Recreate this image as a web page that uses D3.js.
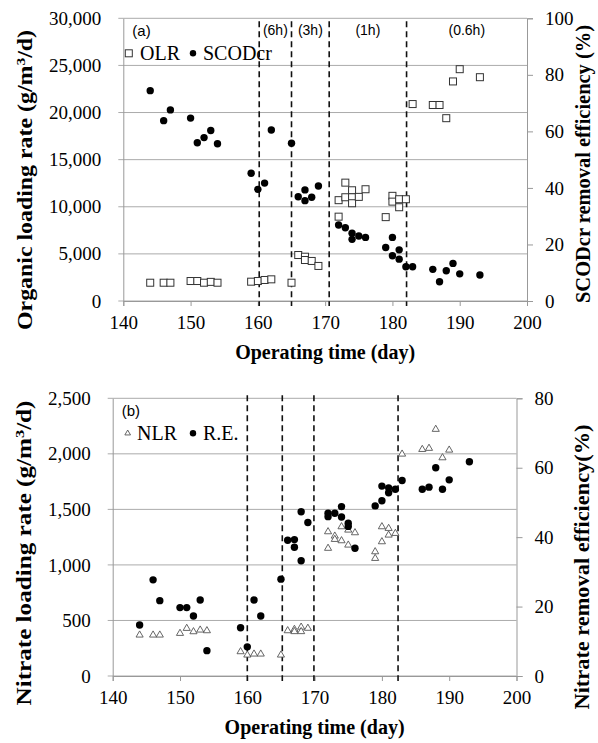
<!DOCTYPE html>
<html>
<head>
<meta charset="utf-8">
<script src="https://cdn.jsdelivr.net/npm/d3@7"></script>
<style>
  body { margin: 0; background: #fff; }
  svg { display: block; }
  text { fill: #000; }
</style>
</head>
<body>
<div class="svg"></div>
<script>
// ---- data ----
const xTicks = [140, 150, 160, 170, 180, 190, 200];

// panel (a)
const olrDay = [144,146,147,150,151,152,153,154,159,160,161,162,165,166,167,167,168,169,172,172,173,173,174,174,174,175,176,179,180,180,181,181,182,183,186,187,188,189,190,193];
const olrVal = [1940,1940,1940,2120,2120,1940,2030,1940,2050,2120,2230,2300,1940,4880,4700,4350,4250,3720,10700,8950,12560,11010,11750,11010,10375,11050,11860,8900,11160,10545,10800,9950,10800,20900,20800,20800,19400,23300,24600,23750];
const scodDay = [144,146,147,150,151,152,153,154,159,160,161,162,165,166,167,167,168,169,172,173,174,174,175,176,179,180,180,181,181,182,183,186,187,188,189,190,193];
const scodVal = [74.4,63.8,67.6,64.7,56.0,57.8,60.3,55.6,45.2,39.5,41.7,60.5,55.8,36.9,39.3,35.5,36.7,40.7,26.9,25.9,24.0,21.8,23.0,22.5,18.9,22.5,16.0,18.1,14.8,12.1,12.1,11.2,6.8,10.7,13.3,9.6,9.2];
const leftTicksA = [0, 5000, 10000, 15000, 20000, 25000, 30000];
const rightTicksA = [0, 20, 40, 60, 80, 100];
const dashDaysA = [160.2, 165, 170.6, 182.1];
const hrtLabels = ["(6h)", "(3h)", "(1h)", "(0.6h)"];

// panel (b)
const nlrDay = [144,146,147,150,151,152,153,154,159,160,161,162,165,166,167,167,168,168,169,172,172,173,173,174,174,175,175,176,179,179,180,180,181,181,182,183,186,187,188,189,190];
const nlrVal = [369,369,369,384,429,399,414,408,219,189,198,198,189,408,420,400,440,400,430,1299,1150,1260,1230,1344,1218,1314,1179,1290,1119,1059,1344,1209,1329,1269,1284,1998,2040,2050,2221,1965,2034];
const reDay = [144,146,147,150,151,152,153,154,159,160,161,162,165,166,167,167,168,168,169,172,172,173,174,174,175,175,176,179,180,180,181,181,182,183,186,187,188,189,190,193];
const reVal = [14.7,27.7,21.7,19.7,19.7,17.3,21.9,7.3,13.9,8.4,21.9,17.3,27.9,39.1,39.3,37.1,47.3,33.2,44.2,46.9,45.9,46.9,48.8,45.8,44.0,43.1,36.8,49.0,50.5,54.7,54.2,52.8,53.8,56.3,53.8,54.4,60.0,53.8,56.5,61.7];
const leftTicksB = [0, 500, 1000, 1500, 2000, 2500];
const rightTicksB = [0, 20, 40, 60, 80];
const dashDaysB = [160, 165.2, 169.9, 182.4];

const width = 598, height = 743;
const serif = "'Liberation Serif', 'Times New Roman', serif";
const sans = "'Liberation Sans', Arial, sans-serif";

let svg = d3.select('.svg').append('svg').attr('width', width).attr('height', height);

function panel(p) {
    let g = svg.append('g');
    let x = d3.scaleLinear().domain([140, 200]).range([p.x0, p.x1]);
    let yL = d3.scaleLinear().domain([0, d3.max(p.leftTicks)]).range([p.y0, p.y1]);
    let yR = d3.scaleLinear().domain([0, d3.max(p.rightTicks)]).range([p.y0, p.y1]);

    // gridlines
    g.append('g').selectAll('line').data(p.leftTicks).enter().append('line')
        .attr('x1', p.x0 - 5).attr('x2', p.x1)
        .attr('y1', d => yL(d)).attr('y2', d => yL(d))
        .attr('stroke', '#ababab').attr('stroke-width', 1);

    // left axis
    let axL = g.append('g').attr('transform', 'translate(' + p.x0 + ',0)')
        .call(d3.axisLeft(yL).tickValues(p.leftTicks).tickFormat(d3.format(',')).tickSize(0).tickPadding(22));
    axL.select('.domain').attr('stroke', '#999');
    axL.selectAll('text').attr('font-family', serif).attr('font-size', 19);

    // right axis
    let axR = g.append('g').attr('transform', 'translate(' + p.x1 + ',0)')
        .call(d3.axisRight(yR).tickValues(p.rightTicks).tickSize(6).tickPadding(12));
    axR.select('.domain').attr('stroke', '#999');
    axR.selectAll('line').attr('stroke', '#999');
    axR.selectAll('text').attr('font-family', serif).attr('font-size', 19);

    // bottom axis
    let axB = g.append('g').attr('transform', 'translate(0,' + p.y0 + ')')
        .call(d3.axisBottom(x).tickValues(xTicks).tickSize(5).tickPadding(10));
    axB.select('.domain').attr('stroke', '#999');
    axB.selectAll('line').attr('stroke', '#999');
    axB.selectAll('text').attr('font-family', serif).attr('font-size', 19);

    // HRT dividers
    g.append('g').selectAll('line').data(p.dashes).enter().append('line')
        .attr('x1', d => x(d)).attr('x2', d => x(d))
        .attr('y1', p.y1 + p.dashTop).attr('y2', p.y0 + 5)
        .attr('stroke', '#111').attr('stroke-width', 1.6).attr('stroke-dasharray', '6,4');

    // series on left axis
    if (p.leftShape === 'square') {
        g.append('g').selectAll('rect').data(p.lDay).enter().append('rect')
            .attr('x', (d, i) => x(d) - 3.5).attr('y', (d, i) => yL(p.lVal[i]) - 3.5)
            .attr('width', 7).attr('height', 7)
            .attr('fill', '#fff').attr('stroke', '#333').attr('stroke-width', 1);
    } else {
        g.append('g').selectAll('path').data(p.lDay).enter().append('path')
            .attr('d', d3.symbol(d3.symbolTriangle, 22))
            .attr('transform', (d, i) => 'translate(' + x(d) + ',' + yL(p.lVal[i]) + ')')
            .attr('fill', '#fff').attr('stroke', '#555').attr('stroke-width', 0.9);
    }
    // series on right axis
    g.append('g').selectAll('circle').data(p.rDay).enter().append('circle')
        .attr('cx', d => x(d)).attr('cy', (d, i) => yR(p.rVal[i]))
        .attr('r', 3.7).attr('fill', '#000');

    // axis titles
    g.append('text').attr('x', (p.x0 + p.x1) / 2).attr('y', p.y0 + 58)
        .attr('text-anchor', 'middle').attr('font-family', serif).attr('font-weight', 'bold')
        .attr('font-size', 20).text('Operating time (day)');
    g.append('text')
        .attr('transform', 'translate(' + p.lTitleX + ',' + p.lTitleY + ') rotate(-90)')
        .attr('text-anchor', 'middle').attr('font-family', serif).attr('font-weight', 'bold')
        .attr('font-size', 20).attr('textLength', p.lTitleLen).attr('lengthAdjust', 'spacingAndGlyphs')
        .html(p.lTitle);
    g.append('text')
        .attr('transform', 'translate(' + p.rTitleX + ',' + p.rTitleY + ') rotate(-90)')
        .attr('text-anchor', 'middle').attr('font-family', serif).attr('font-weight', 'bold')
        .attr('font-size', 20).attr('textLength', p.rTitleLen).attr('lengthAdjust', 'spacingAndGlyphs')
        .text(p.rTitle);

    // panel tag
    g.append('text').attr('x', p.x0 + p.tagDx).attr('y', p.y1 + 18)
        .attr('font-family', sans).attr('font-size', 15).attr('fill', '#333').text(p.tag);

    // legend
    let ly = p.y1 + 35;
    if (p.leftShape === 'square') {
        g.append('rect').attr('x', p.x0 + 2).attr('y', ly - 3.5).attr('width', 7).attr('height', 7)
            .attr('fill', '#fff').attr('stroke', '#333');
    } else {
        g.append('path').attr('d', d3.symbol(d3.symbolTriangle, 14))
            .attr('transform', 'translate(' + (p.x0 + 15) + ',' + ly + ')')
            .attr('fill', '#fff').attr('stroke', '#555').attr('stroke-width', 0.9);
    }
    g.append('text').attr('x', p.legX1).attr('y', ly + 7)
        .attr('font-family', serif).attr('font-size', 20).text(p.lName);
    g.append('circle').attr('cx', p.legDot).attr('cy', ly).attr('r', 3.2).attr('fill', '#000');
    g.append('text').attr('x', p.legDot + 10).attr('y', ly + 7)
        .attr('font-family', serif).attr('font-size', 20).text(p.rName);

    return x;
}

let xa = panel({
    x0: 123.3, x1: 527, y0: 301, y1: 18.3, dashTop: 3,
    leftTicks: leftTicksA, rightTicks: rightTicksA, dashes: dashDaysA,
    leftShape: 'square', lDay: olrDay, lVal: olrVal, rDay: scodDay, rVal: scodVal,
    lTitle: 'Organic loading rate (g/m<tspan baseline-shift="super" font-size="13">3</tspan>/d)',
    lTitleX: 32, lTitleY: 180, lTitleLen: 300,
    rTitle: 'SCODcr removal efficiency (%)', rTitleX: 590, rTitleY: 164, rTitleLen: 278,
    tag: '(a)', tagDx: 9, lName: 'OLR', legX1: 140, legDot: 193, rName: 'SCODcr'
});

// HRT labels between dividers
let mids = dashDaysA.map((d, i) => (d + (i < dashDaysA.length - 1 ? dashDaysA[i + 1] : 200)) / 2);
svg.append('g').selectAll('text').data(hrtLabels).enter().append('text')
    .attr('x', (d, i) => xa(mids[i])).attr('y', 35)
    .attr('text-anchor', 'middle').attr('font-family', sans).attr('font-size', 14)
    .attr('fill', '#404040').text(d => d);

panel({
    x0: 112.7, x1: 516.5, y0: 676, y1: 398.3, dashTop: -3,
    leftTicks: leftTicksB, rightTicks: rightTicksB, dashes: dashDaysB,
    leftShape: 'triangle', lDay: nlrDay, lVal: nlrVal, rDay: reDay, rVal: reVal,
    lTitle: 'Nitrate loading rate (g/m<tspan baseline-shift="super" font-size="13">3</tspan>/d)',
    lTitleX: 31, lTitleY: 553, lTitleLen: 305,
    rTitle: 'Nitrate removal efficiency(%)', rTitleX: 589, rTitleY: 567, rTitleLen: 285,
    tag: '(b)', tagDx: 9, lName: 'NLR', legX1: 137, legDot: 193, rName: 'R.E.'
});
</script>
</body>
</html>
